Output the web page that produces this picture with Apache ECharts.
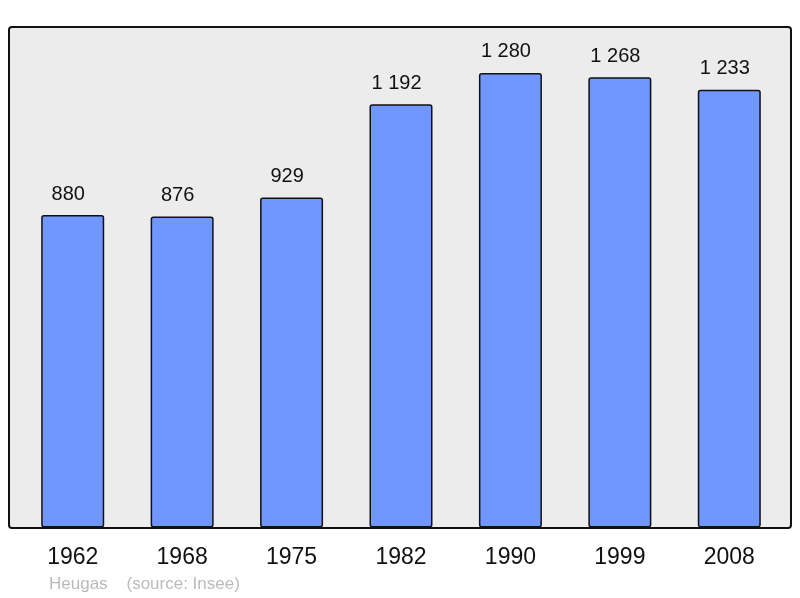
<!DOCTYPE html>
<html><head><meta charset="utf-8">
<script src="https://cdn.jsdelivr.net/npm/echarts@6/dist/echarts.min.js"></script>
<style>html,body{margin:0;padding:0;background:#fff}#c{width:800px;height:598px}</style>
</head><body><div id="c"></div>
<script>
const years = ['1962','1968','1975','1982','1990','1999','2008'];
const population = [880, 876, 929, 1192, 1280, 1268, 1233];
const footerText = 'Heugas    (source: Insee)';

const fmt = v => String(v).replace(/\B(?=(\d{3})+(?!\d))/g, ' ');
const chart = echarts.init(document.getElementById('c'), null, {renderer:'canvas'});
chart.setOption({
  animation:false,
  backgroundColor:'#fff',
  graphic:[
    {type:'rect', z:-10, shape:{x:9, y:27, width:782, height:501, r:3},
     style:{fill:'#ececec', stroke:'#111', lineWidth:2}},
    {type:'text', left:49, top:576, style:{text:footerText, fill:'#bbbbbb', font:'17px "Liberation Sans", Arial, sans-serif'}}
  ],
  grid:{left:18, right:16, top:27.5, bottom:70.5},
  xAxis:{type:'category', data:years,
    axisLine:{show:false}, axisTick:{show:false},
    axisLabel:{fontSize:23, color:'#111', margin:19, fontFamily:'"Liberation Sans", Arial, sans-serif'}},
  yAxis:{type:'value', min:0, max:1408, show:false, splitLine:{show:false}},
  series:[{type:'bar', data:population, barWidth:63,
    itemStyle:{color:'#7096ff', borderColor:'#111', borderWidth:1.5, borderRadius:2},
    label:{show:true, position:'top', distance:11, offset:[-4.5,0], fontSize:20, color:'#111',
      fontFamily:'"Liberation Sans", Arial, sans-serif', formatter:p=>fmt(p.value)}}]
});
</script></body></html>
